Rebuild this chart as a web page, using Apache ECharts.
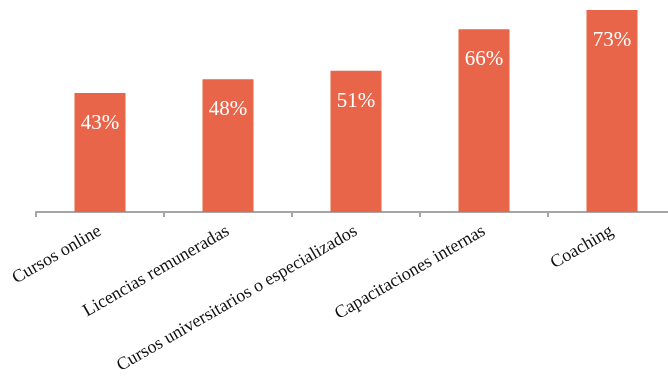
<!DOCTYPE html>
<html><head><meta charset="utf-8">
<script src="https://cdn.jsdelivr.net/npm/echarts@6/dist/echarts.min.js"></script>
<style>html,body{margin:0;padding:0;background:#fff;overflow:hidden;width:668px;height:380px}#c{width:676px;height:380px}</style>
</head><body><div id="c"></div>
<script>
const categories = ["Cursos online","Licencias remuneradas","Cursos universitarios o especializados","Capacitaciones internas","Coaching"];
const values = [43, 48, 51, 66, 73];
const chart = echarts.init(document.getElementById('c'), null, {renderer:'canvas'});
chart.setOption({
  animation:false,
  grid:{left:36, top:0, right:0, height:212, containLabel:false},
  xAxis:{type:'category', data:categories,
    axisLine:{lineStyle:{color:'#A6A6A6', width:2}},
    axisTick:{show:true, length:5, lineStyle:{color:'#A6A6A6', width:2}},
    axisLabel:{rotate:30, interval:0, color:'#111', fontFamily:'Liberation Serif, serif', fontSize:18, margin:18}
  },
  yAxis:{type:'value', min:0, max:76.6, show:false, splitLine:{show:false}},
  series:[{type:'bar', data:values, barWidth:51, itemStyle:{color:'#E8654A'},
    label:{show:true, position:'insideTop', distance:20, formatter:'{c}%', color:'#fff', fontFamily:'Liberation Serif, serif', fontSize:21}}]
});
</script></body></html>
